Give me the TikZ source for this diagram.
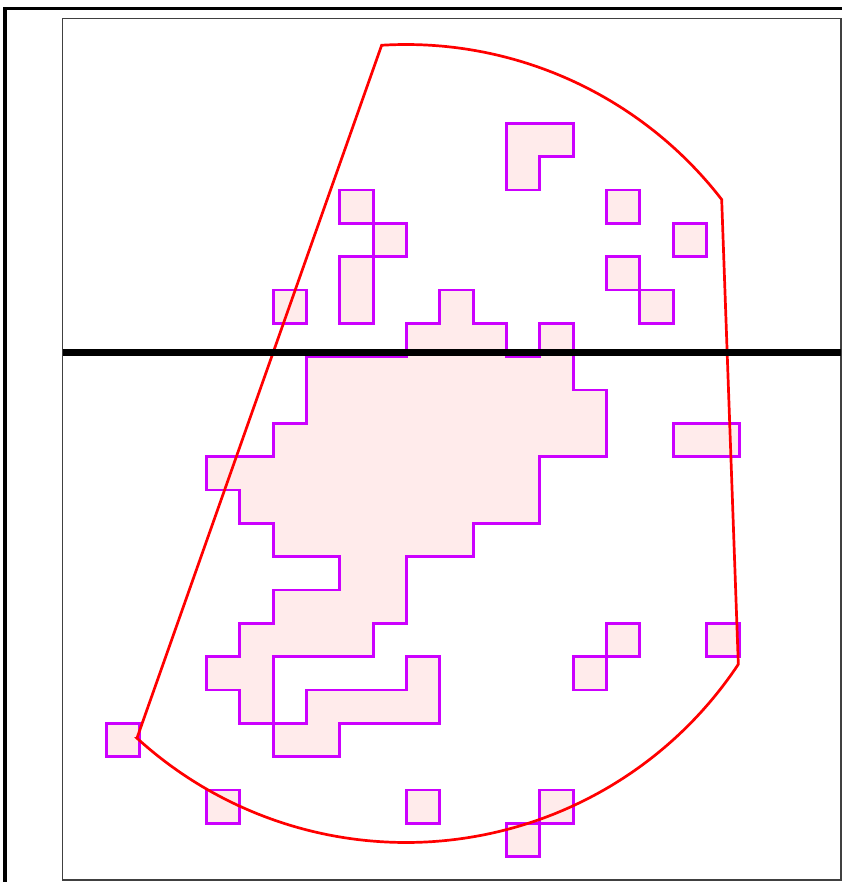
\documentclass[tikz,border=0pt]{standalone}
\usepackage{tikz}
\usetikzlibrary{calc}
\definecolor{cellfill}{RGB}{255,235,235}
\definecolor{celledge}{RGB}{204,0,255}

\begin{document}
\begin{tikzpicture}[x=33.333bp,y=-33.333bp,
  cell/.style={draw=celledge,fill=cellfill,line width=2.7bp},
  fov/.style={draw=red,line width=2.7bp},
  frame/.style={draw=black,line width=3.3bp},
  panel/.style={draw=black!75,line width=1.3bp},
  divider/.style={draw=black,line width=7bp}]
\useasboundingbox (-3.195,-3.699) rectangle (22.065,22.761);
\clip (-3.195,-3.699) rectangle (22.065,22.761);
\draw[frame] (-3.045,-3.45) rectangle (24,24);
\draw[panel] (-1.314,-3.15) rectangle (22.035,22.70);
\draw[cell] (12,0) -- (14,0) -- (14,1) -- (13,1) -- (13,2) -- (12,2) -- cycle;
\draw[cell] (7,2) rectangle ++(1,1);
\draw[cell] (8,3) rectangle ++(1,1);
\draw[cell] (7,4) rectangle ++(1,2);
\draw[cell] (5,5) rectangle ++(1,1);
\draw[cell] (15,2) rectangle ++(1,1);
\draw[cell] (17,3) rectangle ++(1,1);
\draw[cell] (15,4) rectangle ++(1,1);
\draw[cell] (16,5) rectangle ++(1,1);
\draw[cell] (10,5) -- (11,5) -- (11,6) -- (12,6) -- (12,7) -- (13,7) -- (13,6) -- (14,6) -- (14,8) -- (15,8) -- (15,10) -- (13,10) -- (13,12) -- (11,12) -- (11,13) -- (9,13) -- (9,15) -- (8,15) -- (8,16) -- (5,16) -- (5,18) -- (4,18) -- (4,17) -- (3,17) -- (3,16) -- (4,16) -- (4,15) -- (5,15) -- (5,14) -- (7,14) -- (7,13) -- (5,13) -- (5,12) -- (4,12) -- (4,11) -- (3,11) -- (3,10) -- (5,10) -- (5,9) -- (6,9) -- (6,7) -- (9,7) -- (9,6) -- (10,6) -- cycle;
\draw[cell] (9,16) -- (10,16) -- (10,18) -- (7,18) -- (7,19) -- (5,19) -- (5,18) -- (6,18) -- (6,17) -- (9,17) -- cycle;
\draw[cell] (17,9) rectangle ++(2,1);
\draw[cell] (15,15) rectangle ++(1,1);
\draw[cell] (14,16) rectangle ++(1,1);
\draw[cell] (18,15) rectangle ++(1,1);
\draw[cell] (0,18) rectangle ++(1,1);
\draw[cell] (3,20) rectangle ++(1,1);
\draw[cell] (9,20) rectangle ++(1,1);
\draw[cell] (13,20) rectangle ++(1,1);
\draw[cell] (12,21) rectangle ++(1,1);
\coordinate (c) at (8.985,9.606);
\coordinate (p1) at ($(c)+(-93.5:11.97)$);
\coordinate (p3) at ($(c)+(33.6:11.97)$);
\coordinate (p4) at ($(c)+(132.4:11.97)$);
\draw[fov] (p4) -- (p1) arc[start angle=-93.5,end angle=-37.7,radius=11.97] -- (p3) arc[start angle=33.6,end angle=132.4,radius=11.97] -- cycle;
\draw[divider] (-1.314,6.876) -- (22.035,6.876);
\end{tikzpicture}
\end{document}
